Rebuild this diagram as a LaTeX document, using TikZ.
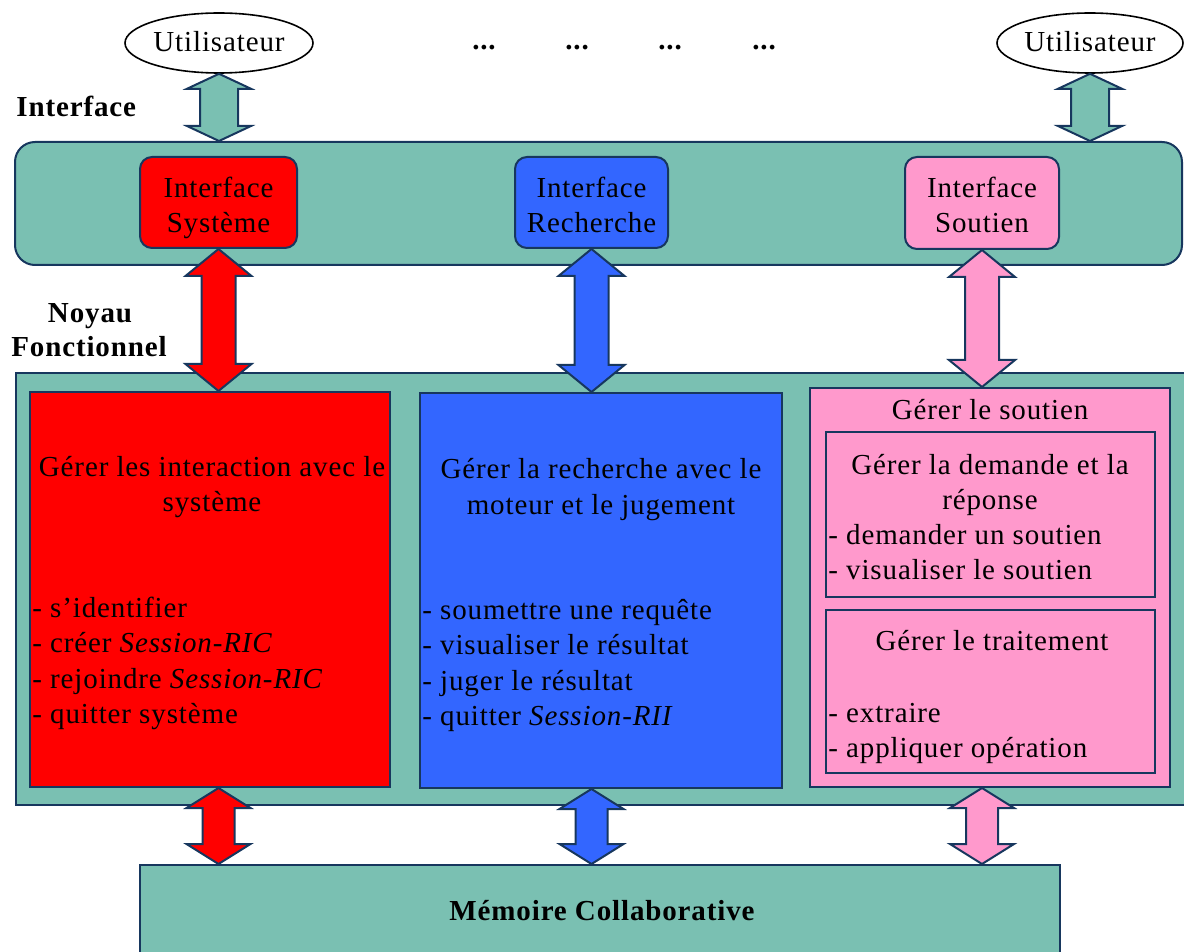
\documentclass[tikz,border=0pt]{standalone}
\usepackage{fontspec}
\setmainfont[LetterSpace=3]{Liberation Serif}
\usetikzlibrary{calc,shapes.geometric}
\definecolor{teal1}{RGB}{122,192,178}
\definecolor{navy1}{RGB}{23,55,94}
\definecolor{red1}{RGB}{255,0,0}
\definecolor{blue1}{RGB}{51,102,255}
\definecolor{pink1}{RGB}{255,153,204}
\newcommand\dblarr[6]{%
\filldraw[arrowline, fill=#3] let \p1=(#1), \p2=(#2) in
 (\x1,\y1) -- (\x1+#5,\y1-#6) -- (\x1+#4,\y1-#6) -- (\x1+#4,\y2+#6) -- (\x1+#5,\y2+#6) -- (\x1,\y2)
 -- (\x1-#5,\y2+#6) -- (\x1-#4,\y2+#6) -- (\x1-#4,\y1-#6) -- (\x1-#5,\y1-#6) -- cycle;}
\tikzset{
  every node/.style={font=\fontsize{14.5}{17.75}\selectfont, inner sep=0pt},
  arrowline/.style={draw=navy1, line width=1pt, line join=miter},
  box/.style={draw=navy1, line width=1pt, rectangle},
  lbl/.style={anchor=base},
  lst/.style={anchor=base west},
  bold/.style={font=\fontsize{14.5}{17.75}\selectfont\bfseries},
}
\begin{document}
\begin{tikzpicture}[x=0.5pt,y=-0.5pt]
\useasboundingbox (0,0) rectangle (1184,952);
\clip (0,0) rectangle (1184,952);
% top users
\node[draw=black, line width=0.8pt, ellipse, minimum width=94pt, minimum height=30pt] (u1) at (219,43) {};
\node[lbl] (u1t) at (219,52) {Utilisateur};
\node[draw=black, line width=0.8pt, ellipse, minimum width=93pt, minimum height=30pt] (u2) at (1090,43) {};
\node[lbl] (u2t) at (1090,52) {Utilisateur};
\node[lbl, bold] (d1) at (484,50) {...};
\node[lbl, bold] (d2) at (577,50) {...};
\node[lbl, bold] (d3) at (670,50) {...};
\node[lbl, bold] (d4) at (764,50) {...};
\node[anchor=base west, bold] (linter) at (16,117) {Interface};
% interface panel
\node[box, fill=teal1, rounded corners=10pt, minimum width=583.5pt, minimum height=61.5pt] (ipanel) at (598.5,203.5) {};
\node[box, fill=red1, rounded corners=6pt, minimum width=78.5pt, minimum height=45.5pt] (isys) at (218.5,202.5) {};
\node[box, fill=blue1, rounded corners=6pt, minimum width=76.5pt, minimum height=45.5pt] (irech) at (591.5,202.5) {};
\node[box, fill=pink1, rounded corners=6pt, minimum width=77pt, minimum height=46pt] (isout) at (982,203) {};
\node[lbl] (isys1) at (218.5,198) {Interface};
\node[lbl] (isys2) at (218.5,233) {Système};
\node[lbl] (irech1) at (591.5,198) {Interface};
\node[lbl] (irech2) at (591.5,233) {Recherche};
\node[lbl] (isout1) at (982,198) {Interface};
\node[lbl] (isout2) at (982,233) {Soutien};
% noyau label
\node[lbl, bold] (noy1) at (90,322) {Noyau};
\node[lbl, bold] (noy2) at (89,357) {Fonctionnel};
% noyau panel
\node[box, fill=teal1, minimum width=590pt, minimum height=216pt] (npanel) at (605.5,589) {};
\node[box, fill=red1, minimum width=180pt, minimum height=197.5pt] (rbox) at (210,589.5) {};
\node[box, fill=blue1, minimum width=181pt, minimum height=197.5pt] (bbox) at (601,590.5) {};
\node[box, fill=pink1, minimum width=180pt, minimum height=199.5pt] (pbox) at (990,587.5) {};
\node[box, fill=pink1, minimum width=164.5pt, minimum height=82.5pt] (pin1) at (990.5,514.5) {};
\node[box, fill=pink1, minimum width=164.5pt, minimum height=81.5pt] (pin2) at (990.5,691.5) {};
% red texts
\node[lbl] (r1) at (212,476) {Gérer les interaction avec le};
\node[lbl] (r2) at (212,511) {système};
\node[lst] (r3) at (32,617) {- s’identifier};
\node[lst] (r4) at (32,652) {- créer \textit{Session-RIC}};
\node[lst] (r5) at (32,688) {- rejoindre \textit{Session-RIC}};
\node[lst] (r6) at (32,723) {- quitter système};
% blue texts
\node[lbl] (b1) at (601,478) {Gérer la recherche avec le};
\node[lbl] (b2) at (601,514) {moteur et le jugement};
\node[lst] (b3) at (422,619) {- soumettre une requête};
\node[lst] (b4) at (422,654) {- visualiser le résultat};
\node[lst] (b5) at (422,690) {- juger le résultat};
\node[lst] (b6) at (422,725) {- quitter \textit{Session-RII}};
% pink texts
\node[lbl] (p0) at (990,420) {Gérer le soutien};
\node[lbl] (p1) at (990,474) {Gérer la demande et la};
\node[lbl] (p2) at (990,509) {réponse};
\node[lst] (p3) at (828,544) {- demander un soutien};
\node[lst] (p4) at (828,579) {- visualiser le soutien};
\node[lbl] (p5) at (992,650) {Gérer le traitement};
\node[lst] (p6) at (828,722) {- extraire};
\node[lst] (p7) at (828,757) {- appliquer opération};
% memoire
\node[box, fill=teal1, minimum width=460pt, minimum height=50pt] (mem) at (600,915) {};
\node[lbl, bold] (memt) at (602,920) {Mémoire Collaborative};
% arrows top
\dblarr{u1.south}{u1.south |- ipanel.north}{teal1}{9.5pt}{16pt}{7.5pt}
\dblarr{u2.south}{u2.south |- ipanel.north}{teal1}{9.5pt}{16pt}{7.5pt}
% arrows middle
\dblarr{isys.south}{isys.south |- rbox.north}{red1}{8.5pt}{16.5pt}{13.5pt}
\dblarr{irech.south}{irech.south |- bbox.north}{blue1}{8.5pt}{16.5pt}{13.5pt}
\dblarr{isout.south}{isout.south |- pbox.north}{pink1}{8.5pt}{16.5pt}{13.5pt}
% arrows bottom
\dblarr{isys.south |- rbox.south}{isys.south |- mem.north}{red1}{8pt}{16pt}{10pt}
\dblarr{irech.south |- bbox.south}{irech.south |- mem.north}{blue1}{8pt}{16pt}{10pt}
\dblarr{isout.south |- pbox.south}{isout.south |- mem.north}{pink1}{8pt}{16pt}{10pt}
\end{tikzpicture}
\end{document}
